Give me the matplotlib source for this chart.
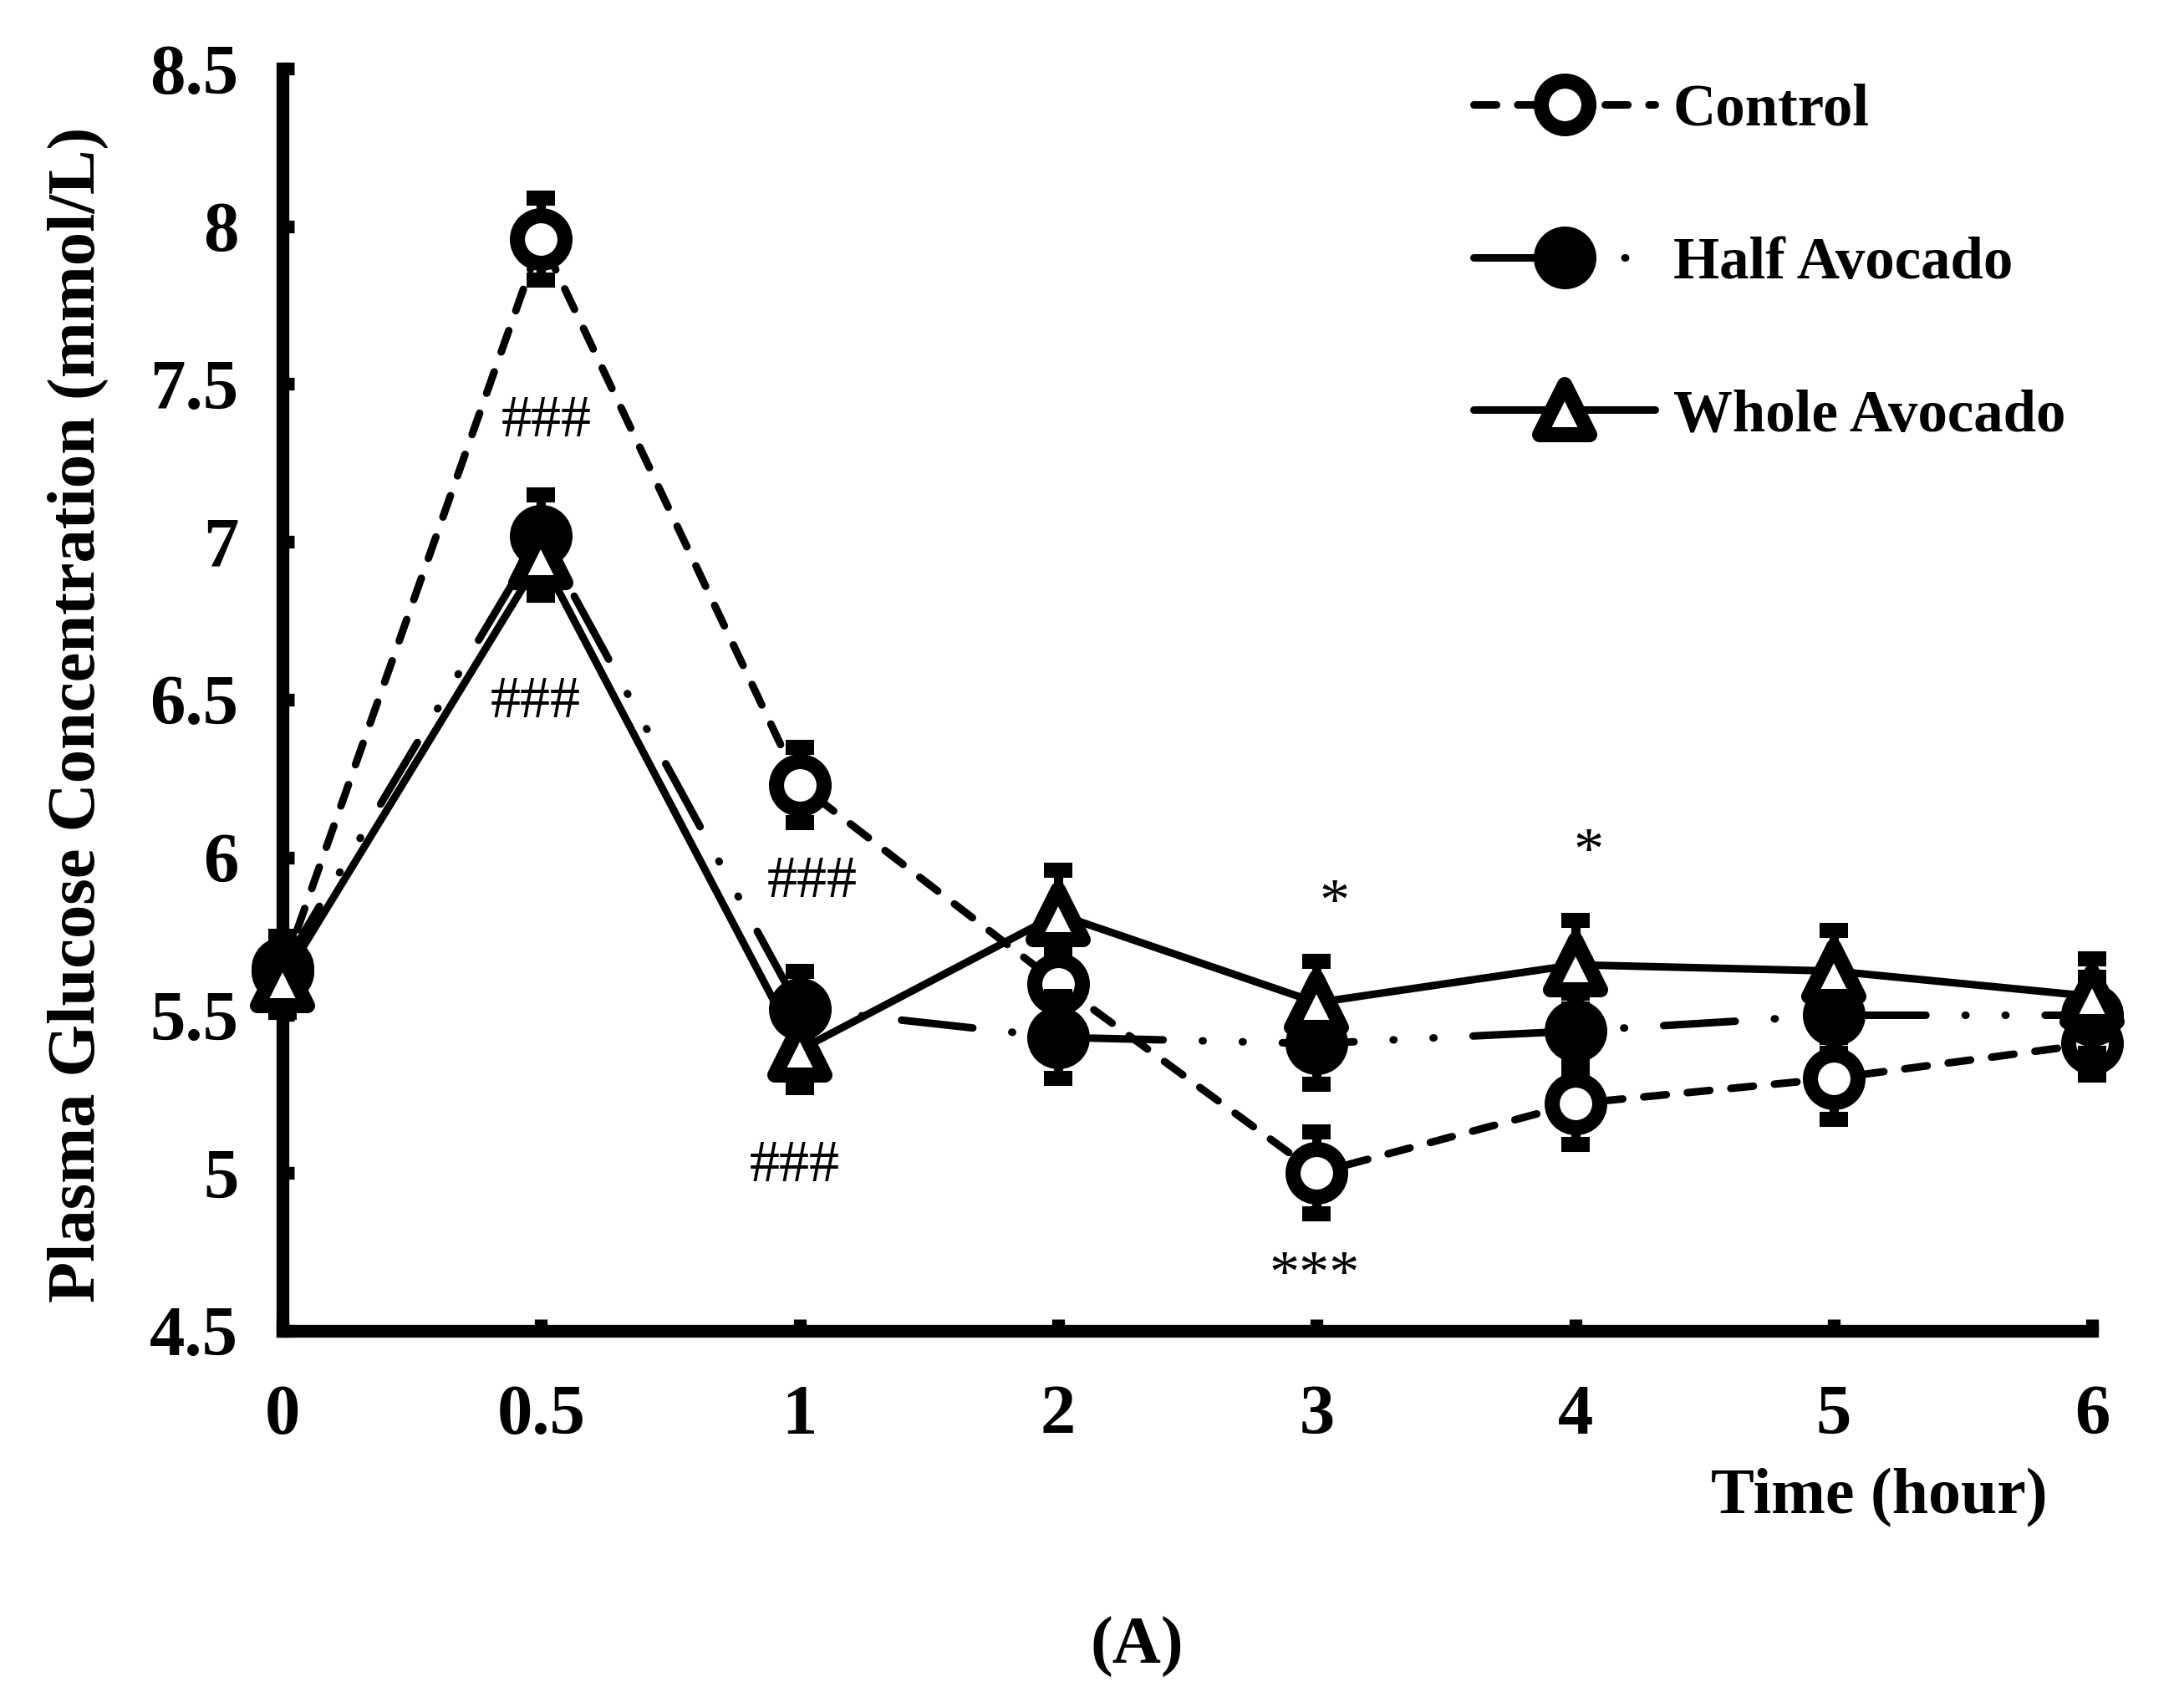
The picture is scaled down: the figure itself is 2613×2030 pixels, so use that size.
import numpy as np
import matplotlib
matplotlib.use("Agg")
import matplotlib.pyplot as plt
from matplotlib.markers import MarkerStyle

plt.rcParams["font.family"] = ["Liberation Serif", "DejaVu Serif"]
plt.rcParams["font.weight"] = "bold"

# time points (categorical positions on the x axis)
time_labels = ["0", "0.5", "1", "2", "3", "4", "5", "6"]

control = [5.64, 7.96, 6.23, 5.60, 5.00, 5.22, 5.30, 5.41]
control_err = [0.10, 0.13, 0.12, 0.12, 0.13, 0.13, 0.13, 0.10]

half_avocado = [5.65, 7.02, 5.52, 5.43, 5.41, 5.45, 5.50, 5.50]
half_err = [0.10, 0.13, 0.12, 0.13, 0.13, 0.12, 0.12, 0.12]

whole_avocado = [5.61, 6.95, 5.39, 5.82, 5.54, 5.66, 5.64, 5.56]
whole_err = [0.10, 0.12, 0.12, 0.14, 0.13, 0.14, 0.13, 0.12]

# significance marks: (x position, y value, text)
sig_x = [1.02, 0.98, 2.05, 1.98, 4.07, 5.05, 3.99]
sig_y = [7.38, 6.49, 5.92, 5.02, 5.85, 6.01, 4.67]
sig_text = ["###", "###", "###", "###", "*", "*", "***"]

x = np.arange(len(time_labels))

fig = plt.figure(figsize=(26.13, 20.30), dpi=100)
ax = fig.add_axes([0.1294, 0.2158, 0.8286, 0.7438])

lw = 6.5
ms = 41
mew = 13

series = [
    ("Control", control, control_err, "o", "white", (0, (3.0, 2.8)), 3),
    ("Half Avocado", half_avocado, half_err, "o", "black", (0, (9.5, 5.2, 0.1, 5.2, 0.1, 5.2)), 4),
    ("Whole Avocado", whole_avocado, whole_err, "^", "white", "-", 5),
]

handles = []
for name, vals, err, mk, face, ls, z in series:
    ax.errorbar(x, vals, yerr=err, fmt="none", ecolor="black", elinewidth=8,
                capsize=12, capthick=13, zorder=z, clip_on=False)
    marker = MarkerStyle(mk, joinstyle="round")
    line, = ax.plot(x, vals, color="black", linewidth=lw, linestyle=ls,
                    dash_capstyle="round", solid_capstyle="round",
                    marker=marker, markersize=ms if mk == "o" else ms + 2,
                    markerfacecolor=face, markeredgecolor="black",
                    markeredgewidth=mew, zorder=z + 0.5, clip_on=False, label=name)
    handles.append(line)

for sx, sy, st in zip(sig_x, sig_y, sig_text):
    ax.text(sx, sy, st, ha="center", va="center", fontsize=52,
            fontweight="normal", zorder=10)

ax.set_xlim(0, 7)
ax.set_ylim(4.5, 8.5)
ax.set_xticks(x)
ax.set_xticklabels(time_labels)
ax.set_yticks(np.arange(4.5, 8.51, 0.5))
ax.set_yticklabels(["4.5", "5", "5.5", "6", "6.5", "7", "7.5", "8", "8.5"])

for side in ["top", "right"]:
    ax.spines[side].set_visible(False)
for side in ["left", "bottom"]:
    ax.spines[side].set_linewidth(11)
    ax.spines[side].set_capstyle("projecting")

ax.tick_params(axis="both", direction="in", length=10, width=11, labelsize=61)
ax.tick_params(axis="x", pad=46)
ax.tick_params(axis="y", pad=38)

fig.text(93 / 2613, 0.579, "Plasma Glucose Concentration (mmol/L)", rotation=90,
         ha="center", va="center", fontsize=58)
fig.text(2248 / 2613, 1 - 1792 / 2030, "Time (hour)", ha="center", va="center",
         fontsize=56)
fig.text(1360 / 2613, 1 - 1970 / 2030, "(A)", ha="center", va="center", fontsize=58)

ax.legend(handles=handles, loc="upper left", bbox_to_anchor=(1763 / 2613, 1 - 100 / 2030),
          bbox_transform=fig.transFigure, frameon=False, fontsize=51,
          handlelength=3.07, handletextpad=0.3, labelspacing=1.66,
          borderpad=0, borderaxespad=0, numpoints=1)

fig.savefig("out.png", dpi=100)
